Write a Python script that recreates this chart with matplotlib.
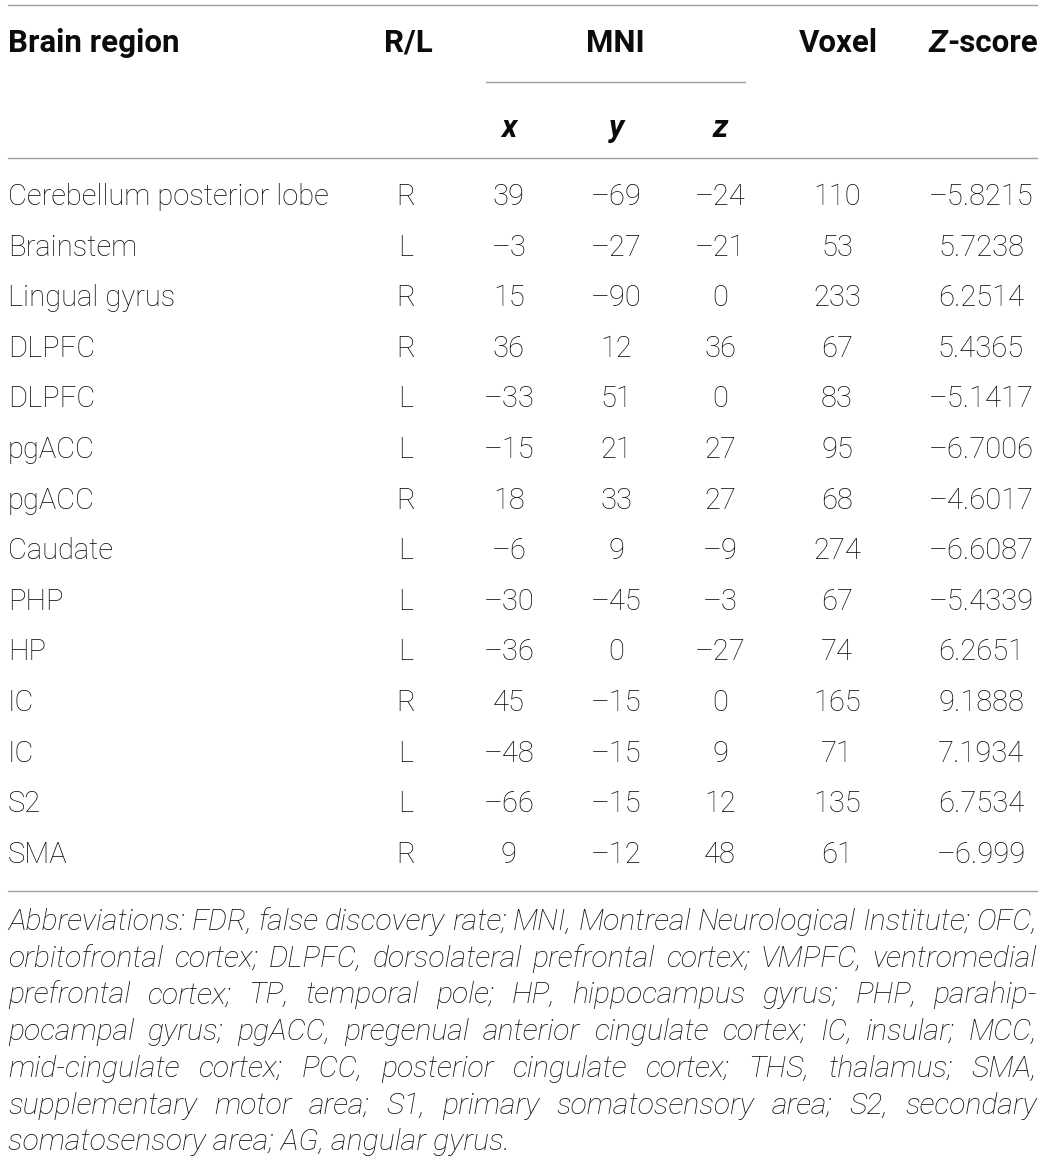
import matplotlib
matplotlib.use("Agg")
import matplotlib.pyplot as plt

W, H = 1043, 1164
DPI = 100

# ---------------- data ----------------
regions = ["Cerebellum posterior lobe", "Brainstem", "Lingual gyrus", "DLPFC", "DLPFC",
           "pgACC", "pgACC", "Caudate", "PHP", "HP", "IC", "IC", "S2", "SMA"]
side = ["R", "L", "R", "R", "L", "L", "R", "L", "L", "L", "R", "L", "L", "R"]
mni_x = [39, -3, 15, 36, -33, -15, 18, -6, -30, -36, 45, -48, -66, 9]
mni_y = [-69, -27, -90, 12, 51, 21, 33, 9, -45, 0, -15, -15, -15, -12]
mni_z = [-24, -21, 0, 36, 0, 27, 27, -9, -3, -27, 0, 9, 12, 48]
voxel = [110, 53, 233, 67, 83, 95, 68, 274, 67, 74, 165, 71, 135, 61]
zscore = [-5.8215, 5.7238, 6.2514, 5.4365, -5.1417, -6.7006, -4.6017, -6.6087,
          -5.4339, 6.2651, 9.1888, 7.1934, 6.7534, -6.999]

headers = ["Brain region", "R/L", "MNI", "Voxel"]
subheaders = ["x", "y", "z"]
footnote_lines = [
    "Abbreviations: FDR, false discovery rate; MNI, Montreal Neurological Institute; OFC,",
    "orbitofrontal cortex; DLPFC, dorsolateral prefrontal cortex; VMPFC, ventromedial",
    "prefrontal cortex; TP, temporal pole; HP, hippocampus gyrus; PHP, parahip-",
    "pocampal gyrus; pgACC, pregenual anterior cingulate cortex; IC, insular; MCC,",
    "mid-cingulate cortex; PCC, posterior cingulate cortex; THS, thalamus; SMA,",
    "supplementary motor area; S1, primary somatosensory area; S2, secondary",
    "somatosensory area; AG, angular gyrus.",
]

# ---------------- layout ----------------
FONT = "Roboto"
BODYW = "light"
TXT = "#0c0c0c"
LINE = "#a0a0a0"
LEFT, RIGHT = 8, 1037
col_rl, col_x, col_y, col_z, col_vox, col_zs = 406, 509, 616, 720, 837, 981
row0, row_step = 205, 50.6

fig = plt.figure(figsize=(W / DPI, H / DPI), dpi=DPI)
ax = fig.add_axes([0, 0, 1, 1])
ax.set_xlim(0, W)
ax.set_ylim(H, 0)
ax.axis("off")
renderer = fig.canvas.get_renderer()


def width_of(s, size, **kw):
    t = ax.text(0, 0, s, fontsize=size, family=FONT, **kw)
    w = t.get_window_extent(renderer).width
    t.remove()
    return w


# calibrate sizes to reference widths
body = 20 * 322 / width_of(regions[0], 20, weight=BODYW)
head = 20 * 171 / width_of(headers[0], 20, weight="bold")
foot = 20 * 502 / width_of(footnote_lines[-1], 20, style="italic", weight=BODYW)


def fmt(v):
    return str(v).replace("-", "\u2013")


# rules
ax.plot([LEFT, RIGHT], [5, 5], color=LINE, lw=1.0)
ax.plot([486, 745], [82, 82], color=LINE, lw=1.0)
ax.plot([LEFT, RIGHT], [158, 158], color=LINE, lw=1.0)
ax.plot([LEFT, RIGHT], [891, 891], color=LINE, lw=1.0)

# header
hb = 52
hk = dict(fontsize=head, family=FONT, weight="bold", color=TXT, va="baseline")
ax.text(LEFT, hb, headers[0], ha="left", **hk)
ax.text(col_rl + 2, hb, headers[1], ha="center", **hk)
ax.text(615, hb, headers[2], ha="center", **hk)
ax.text(col_vox + 1, hb, headers[3], ha="center", **hk)
wz = width_of("Z", head, weight="bold", style="italic")
ws = width_of("-score", head, weight="bold")
zx0 = 983 - (wz + ws) / 2
ax.text(zx0, hb, "Z", style="italic", ha="left", **hk)
ax.text(zx0 + wz, hb, "-score", ha="left", **hk)
for cx, s in zip([col_x, col_y, col_z], subheaders):
    ax.text(cx, 137, s, style="italic", ha="center", **hk)

# body rows
for i in range(len(regions)):
    yb = row0 + i * row_step
    kw = dict(fontsize=body, family=FONT, weight=BODYW, color=TXT, va="baseline")
    ax.text(LEFT, yb, regions[i], ha="left", **kw)
    ax.text(col_rl, yb, side[i], ha="center", **kw)
    ax.text(col_x, yb, fmt(mni_x[i]), ha="center", **kw)
    ax.text(col_y, yb, fmt(mni_y[i]), ha="center", **kw)
    ax.text(col_z, yb, fmt(mni_z[i]), ha="center", **kw)
    ax.text(col_vox, yb, fmt(voxel[i]), ha="center", **kw)
    ax.text(col_zs, yb, fmt(zscore[i]), ha="center", **kw)

# justified italic footnote
fb0, fstep = 930, 36.7
for j, line in enumerate(footnote_lines):
    yb = fb0 + j * fstep
    fkw = dict(fontsize=foot, family=FONT, weight=BODYW, style="italic", color=TXT, va="baseline", ha="left")
    if j == len(footnote_lines) - 1:
        ax.text(LEFT, yb, line, **fkw)
        continue
    words = line.split(" ")
    ws_ = [width_of(w, foot, style="italic", weight=BODYW) for w in words]
    gap = (RIGHT - LEFT - sum(ws_)) / (len(words) - 1)
    x = LEFT
    for w, wd in zip(words, ws_):
        ax.text(x, yb, w, **fkw)
        x += wd + gap

fig.savefig("out.png", dpi=DPI, facecolor="white")
